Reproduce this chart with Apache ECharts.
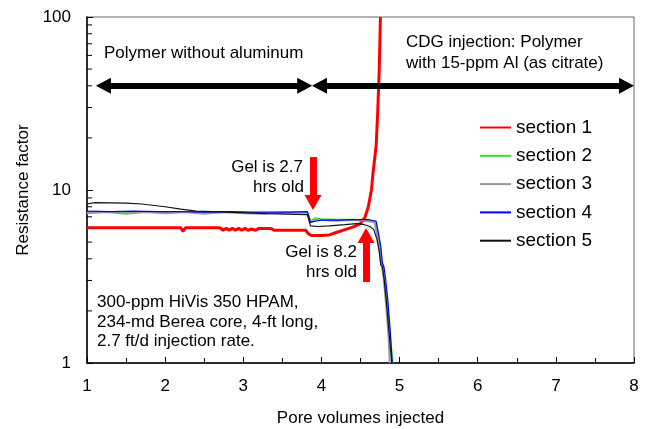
<!DOCTYPE html>
<html>
<head>
<meta charset="utf-8">
<title>Resistance factor</title>
<script src="https://cdn.jsdelivr.net/npm/echarts@6/dist/echarts.min.js"></script>
<style>
  html, body { margin: 0; padding: 0; background: #fff; }
  #chart { width: 646px; height: 429px; }
</style>
</head>
<body>
<div id="chart"></div>
<script>
// section 1 (red)
var x1 = [1.0, 1.5, 2.0, 2.2, 2.23, 2.26, 2.7, 2.74, 2.78, 2.82, 2.86, 2.9, 2.94, 2.98, 3.02, 3.06, 3.1, 3.16, 3.2, 3.35, 3.4, 3.8, 3.83, 3.87, 4.0, 4.1, 4.2, 4.3, 4.4, 4.5, 4.56, 4.6, 4.64, 4.66, 4.68, 4.70, 4.72, 4.74, 4.755];
var y1 = [6.05, 6.05, 6.05, 6.05, 5.75, 6.05, 6.05, 5.85, 6.0, 5.85, 6.0, 5.85, 6.0, 5.85, 6.0, 5.85, 5.95, 5.85, 6.0, 6.0, 5.85, 5.85, 5.6, 5.45, 5.45, 5.5, 5.7, 5.9, 6.1, 6.4, 7.0, 8.0, 10, 12.5, 15, 18, 28, 50, 100];
// section 2 (green)
var x2 = [1.0, 1.2, 1.5, 1.8, 2.1, 2.4, 2.7, 3.0, 3.3, 3.6, 3.82, 3.86, 3.92, 4.0, 4.2, 4.4, 4.6, 4.69, 4.72, 4.75, 4.77, 4.79, 4.81, 4.84, 4.87, 4.915];
var y2 = [7.4, 7.45, 7.4, 7.45, 7.4, 7.45, 7.4, 7.4, 7.35, 7.4, 7.4, 6.6, 6.9, 6.8, 6.75, 6.75, 6.7, 6.6, 5.8, 4.9, 3.8, 3.6, 3.1, 2.3, 1.6, 1.0];
// section 3 (grey)
var x3 = [1.0, 1.25, 1.5, 1.75, 2.0, 2.25, 2.5, 2.75, 3.0, 3.25, 3.5, 3.82, 3.86, 3.92, 4.0, 4.2, 4.4, 4.6, 4.68, 4.71, 4.74, 4.76, 4.78, 4.80, 4.83, 4.86, 4.875];
var y3 = [7.35, 7.45, 7.3, 7.45, 7.35, 7.45, 7.3, 7.45, 7.35, 7.3, 7.4, 7.4, 6.5, 6.7, 6.7, 6.65, 6.7, 6.6, 6.5, 5.6, 4.7, 3.8, 3.5, 3.0, 2.1, 1.4, 1.0];
// section 4 (blue)
var x4 = [1.0, 1.3, 1.6, 1.9, 2.2, 2.5, 2.8, 3.1, 3.4, 3.6, 3.82, 3.86, 3.92, 4.0, 4.2, 4.4, 4.6, 4.7, 4.73, 4.76, 4.78, 4.80, 4.82, 4.85, 4.88, 4.905];
var y4 = [7.55, 7.5, 7.55, 7.5, 7.5, 7.45, 7.5, 7.45, 7.45, 7.45, 7.5, 6.5, 6.6, 6.7, 6.7, 6.75, 6.75, 6.6, 5.6, 4.7, 3.8, 3.6, 3.1, 2.3, 1.55, 1.0];
// section 5 (black)
var x5 = [1.0, 1.1, 1.5, 1.7, 2.0, 2.2, 2.4, 2.8, 3.3, 3.82, 3.86, 3.95, 4.1, 4.3, 4.45, 4.55, 4.62, 4.67, 4.71, 4.74, 4.76, 4.78, 4.80, 4.83, 4.86, 4.9];
var y5 = [8.3, 8.45, 8.4, 8.3, 8.0, 7.75, 7.55, 7.45, 7.3, 7.2, 6.2, 6.15, 6.2, 6.3, 6.4, 6.3, 6.15, 5.9, 5.2, 4.4, 3.7, 3.6, 3.1, 2.3, 1.6, 1.0];

var names = ['section 1', 'section 2', 'section 3', 'section 4', 'section 5'];
var yMinor = [2, 3, 4, 5, 6, 7, 8, 9, 20, 30, 40, 50, 60, 70, 80, 90];

// annotation arrows (data coordinates)
var phaseArrowY = 40;
var phase1 = [1.21, 3.786];
var phase2 = [3.975, 7.904];
var gelArrow1 = { x: 3.892, from: 15.5, to: 8.47 };
var gelArrow2 = { x: 4.571, from: 2.94, to: 5.46 };

var FONT = 'Liberation Sans, Arial, sans-serif';

function pairs(xs, ys) {
    return xs.map(function (x, i) { return [x, ys[i]]; });
}

function lineSeries(name, xs, ys, color, width) {
    return {
        name: name,
        type: 'line',
        data: pairs(xs, ys),
        symbol: 'none',
        showSymbol: false,
        lineStyle: { color: color, width: width },
        itemStyle: { color: color }
    };
}

function txt(text, x, y, align) {
    return {
        type: 'text',
        x: x,
        y: y,
        style: {
            text: text,
            font: '17px ' + FONT,
            fill: '#000',
            align: align || 'left',
            verticalAlign: 'middle'
        }
    };
}

var chart = echarts.init(document.getElementById('chart'));
chart.setOption({
    animation: false,
    textStyle: { fontFamily: FONT },
    grid: {
        left: 87, right: 12, top: 17, bottom: 66,
        outerBoundsMode: 'none',
        show: true, borderColor: '#666', borderWidth: 1
    },
    legend: {
        data: names,
        orient: 'vertical',
        left: 479,
        top: 118,
        padding: 0,
        itemWidth: 31,
        itemHeight: 20,
        itemGap: 9.3,
        // hide the marker dot, keep only the line sample
        itemStyle: { color: 'rgba(0,0,0,0)', borderColor: 'rgba(0,0,0,0)', borderWidth: 0 },
        textStyle: { fontSize: 19, color: '#000', fontFamily: FONT }
    },
    xAxis: {
        type: 'value',
        min: 1, max: 8, interval: 1,
        axisLine: { lineStyle: { color: '#000', width: 1.5 } },
        axisTick: { inside: true, length: 6, lineStyle: { color: '#000' } },
        minorTick: { show: true, splitNumber: 2, length: 5, lineStyle: { color: '#000' } },
        splitLine: { show: false },
        axisLabel: { color: '#000', fontSize: 17, margin: 15, fontFamily: FONT },
        name: 'Pore volumes injected',
        nameLocation: 'middle',
        nameGap: 47,
        nameTextStyle: { color: '#000', fontSize: 17, fontFamily: FONT }
    },
    yAxis: {
        type: 'log',
        logBase: 10,
        min: 1, max: 100,
        axisLine: { show: true, lineStyle: { color: '#000', width: 1.5 } },
        axisTick: { show: true, inside: true, length: 6, lineStyle: { color: '#000' } },
        splitLine: { show: false },
        axisLabel: { color: '#000', fontSize: 17, margin: 16, fontFamily: FONT },
        name: 'Resistance factor',
        nameLocation: 'middle',
        nameGap: 52,
        nameTextStyle: { color: '#000', fontSize: 17, fontFamily: FONT }
    },
    series: [
        lineSeries(names[0], x1, y1, '#ff0000', 3),
        lineSeries(names[1], x2, y2, '#33dd33', 1.5),
        lineSeries(names[2], x3, y3, '#999999', 2),
        lineSeries(names[3], x4, y4, '#0000ff', 1.2),
        lineSeries(names[4], x5, y5, '#111111', 1.2),
        {
            // minor ticks on the log axis
            type: 'custom',
            silent: true,
            data: yMinor.map(function (v) { return [1, v]; }),
            renderItem: function (params, api) {
                var p = api.coord([api.value(0), api.value(1)]);
                return {
                    type: 'line',
                    shape: { x1: p[0], y1: p[1], x2: p[0] + 5, y2: p[1] },
                    style: { stroke: '#000', lineWidth: 1 }
                };
            }
        },
        {
            type: 'line',
            data: [],
            markLine: {
                silent: true,
                symbol: ['triangle', 'triangle'],
                symbolSize: [16, 15],
                label: { show: false },
                lineStyle: { color: '#000', width: 6, type: 'solid' },
                data: [
                    [{ coord: [phase1[0], phaseArrowY] }, { coord: [phase1[1], phaseArrowY] }],
                    [{ coord: [phase2[0], phaseArrowY] }, { coord: [phase2[1], phaseArrowY] }]
                ]
            }
        },
        {
            type: 'line',
            data: [],
            markLine: {
                silent: true,
                symbol: ['none', 'triangle'],
                symbolSize: [17, 15],
                label: { show: false },
                lineStyle: { color: '#ff0000', width: 7, type: 'solid' },
                data: [
                    [{ coord: [gelArrow1.x, gelArrow1.from] }, { coord: [gelArrow1.x, gelArrow1.to] }],
                    [{ coord: [gelArrow2.x, gelArrow2.from] }, { coord: [gelArrow2.x, gelArrow2.to] }]
                ]
            }
        }
    ],
    graphic: [
        txt('Polymer without aluminum', 104, 53),
        txt('CDG injection: Polymer', 406, 42),
        txt('with 15-ppm Al (as citrate)', 406, 63),
        txt('Gel is 2.7', 303, 167, 'right'),
        txt('hrs old', 304, 187, 'right'),
        txt('Gel is 8.2', 357, 252, 'right'),
        txt('hrs old', 357, 272, 'right'),
        txt('300-ppm HiVis 350 HPAM,', 97, 302),
        txt('234-md Berea core, 4-ft long,', 97, 322),
        txt('2.7 ft/d injection rate.', 97, 341)
    ]
});
</script>
</body>
</html>
